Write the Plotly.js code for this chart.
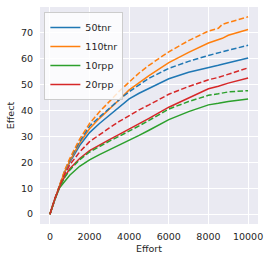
<!DOCTYPE html>
<html>
<head>
<meta charset="utf-8">
<script src="https://cdn.plot.ly/plotly-3.0.1.min.js"></script>
<style>html,body{margin:0;padding:0;background:#fff;}#chart{width:270px;height:261px;}</style>
</head>
<body>
<div id="chart"></div>
<script>
const effort = [0, 250, 500, 750, 1000, 1500, 2000, 2500, 3000, 3500, 4000, 4500, 5000, 6000, 7000, 8000, 8500, 8700, 9000, 10000];

const tnr50_solid  = [0, 6, 11.2, 16.3, 20, 26.5, 31.5, 35, 38.2, 41.3, 44.5, 46.7, 48.6, 52.3, 54.8, 56.8, 57.5, 57.9, 58.5, 60.3];
const tnr50_dash   = [0, 6, 11.3, 16.7, 21, 28, 34, 37.5, 41, 44.2, 47.3, 50, 52.5, 56.3, 59, 61.3, 62.2, 62.6, 63.3, 65.2];
const tnr110_solid = [0, 6, 11.3, 16.5, 20.5, 27.5, 33, 37, 40.5, 44.2, 48, 50.8, 53.5, 58.5, 62.5, 66.1, 67.3, 67.9, 69.1, 71.3];
const tnr110_dash  = [0, 6, 11.5, 17, 21.5, 29, 35, 39.5, 43.5, 47.5, 51, 54.5, 57.5, 62.7, 67, 70.7, 71.8, 73.3, 74, 76.2];
const rpp10_solid  = [0, 5.8, 10.3, 12.8, 15, 18.5, 21, 23, 24.8, 26.5, 28.3, 30.4, 32.4, 36.5, 39.6, 42.2, 42.8, 43.1, 43.5, 44.5];
const rpp10_dash   = [0, 6, 10.8, 14.2, 17, 21, 24, 26.2, 28.2, 30.1, 32, 34.1, 36.2, 40.6, 43.5, 45.9, 46.5, 46.8, 47.2, 47.7];
const rpp20_solid  = [0, 6, 10.8, 14.5, 17.5, 21.5, 24.5, 26.8, 28.8, 30.8, 32.8, 34.8, 37, 41.3, 44.8, 48.4, 49.4, 49.9, 50.6, 52.6];
const rpp20_dash   = [0, 6, 11, 15.5, 19, 24, 28, 30.8, 33.3, 35.8, 38.2, 40.3, 42.2, 46.3, 49.3, 51.9, 52.8, 53.3, 54.1, 56.5];

const xTicks = [0, 2000, 4000, 6000, 8000, 10000];
const yTicks = [0, 10, 20, 30, 40, 50, 60, 70];

const blue = '#1f77b4', orange = '#ff7f0e', green = '#2ca02c', red = '#d62728';
const dashPat = '5.5px,2.4px';

function tr(y, name, color, dashed) {
  return {
    x: effort, y: y, name: name, type: 'scatter', mode: 'lines',
    line: {color: color, width: 1.5, dash: dashed ? dashPat : 'solid'},
    showlegend: !dashed, hoverinfo: 'skip'
  };
}

const data = [
  tr(tnr50_solid, '50tnr', blue, false),
  tr(tnr110_solid, '110tnr', orange, false),
  tr(rpp10_solid, '10rpp', green, false),
  tr(rpp20_solid, '20rpp', red, false),
  tr(tnr50_dash, '50tnr', blue, true),
  tr(tnr110_dash, '110tnr', orange, true),
  tr(rpp10_dash, '10rpp', green, true),
  tr(rpp20_dash, '20rpp', red, true)
];

const tickFont = {family: 'DejaVu Sans', size: 9.5, color: '#262626'};

const layout = {
  width: 270, height: 261,
  margin: {l: 40, r: 12, t: 7, b: 37, pad: 0},
  paper_bgcolor: '#ffffff',
  plot_bgcolor: '#eaeaf2',
  font: tickFont,
  showlegend: true,
  legend: {
    x: 0.02, y: 0.977, xanchor: 'left', yanchor: 'top',
    bgcolor: 'rgba(255,255,255,0.8)', bordercolor: '#cccccc', borderwidth: 1,
    font: {family: 'DejaVu Sans', size: 9.5, color: '#262626'},
    tracegroupgap: 0
  },
  xaxis: {
    range: [-500, 10500], tickvals: xTicks, ticktext: xTicks.map(String),
    showgrid: true, gridcolor: '#ffffff', gridwidth: 1, zeroline: false,
    showline: false, ticks: 'outside', ticklen: 4, tickcolor: 'rgba(0,0,0,0)',
    tickfont: tickFont,
    title: {text: 'Effort', font: {family: 'DejaVu Sans', size: 9.5, color: '#262626'}, standoff: 3}
  },
  yaxis: {
    range: [-3.8, 80], tickvals: yTicks, ticktext: yTicks.map(String),
    showgrid: true, gridcolor: '#ffffff', gridwidth: 1, zeroline: false,
    showline: false, ticks: 'outside', ticklen: 4, tickcolor: 'rgba(0,0,0,0)',
    tickfont: tickFont,
    title: {text: 'Effect', font: {family: 'DejaVu Sans', size: 9.5, color: '#262626'}, standoff: 4}
  }
};

Plotly.newPlot('chart', data, layout, {staticPlot: true, displayModeBar: false});
</script>
</body>
</html>
